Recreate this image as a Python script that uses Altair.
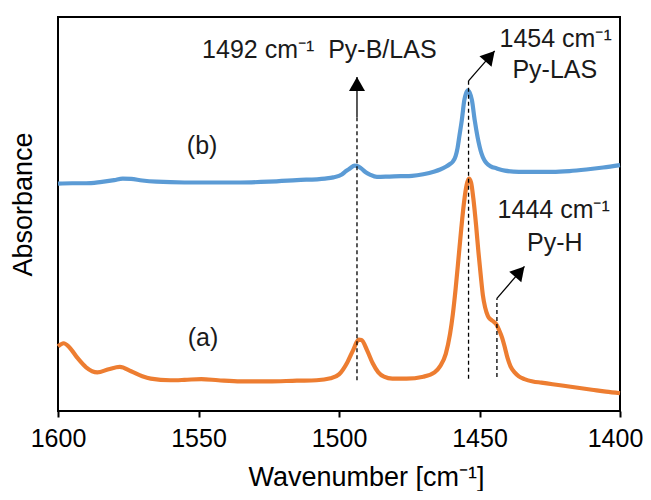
import altair as alt
import pandas as pd

FONT = "Liberation Sans"

# Spectrum (a) - orange
wn_a = [1600, 1598, 1596, 1593, 1590, 1586, 1582, 1578, 1574, 1570, 1567, 1560, 1555, 1549, 1543,
        1535, 1525, 1515, 1508, 1503, 1500, 1497, 1495, 1493, 1492, 1490, 1488, 1486, 1484, 1481,
        1476, 1470, 1466, 1464, 1462, 1460.5, 1459.5, 1458.5, 1457.5, 1456.5, 1455.5, 1454.5, 1453.8,
        1453, 1452.2, 1451.2, 1450.4, 1449.5, 1448.8, 1448, 1447, 1446, 1445, 1444, 1443, 1442, 1441,
        1440, 1439, 1437.5, 1436, 1434, 1431, 1428, 1424, 1420, 1415, 1410, 1405, 1400]
abs_a = [0.164, 0.172, 0.162, 0.134, 0.111, 0.098, 0.106, 0.112, 0.101, 0.088, 0.082, 0.078, 0.079,
         0.081, 0.078, 0.075, 0.075, 0.077, 0.078, 0.083, 0.093, 0.124, 0.154, 0.181, 0.180, 0.154,
         0.121, 0.098, 0.087, 0.082, 0.082, 0.087, 0.098, 0.114, 0.145, 0.195, 0.245, 0.310, 0.385,
         0.462, 0.530, 0.576, 0.590, 0.580, 0.540, 0.470, 0.405, 0.340, 0.294, 0.263, 0.241, 0.232,
         0.227, 0.220, 0.205, 0.187, 0.162, 0.134, 0.114, 0.098, 0.088, 0.081, 0.075, 0.072, 0.068,
         0.064, 0.059, 0.054, 0.049, 0.045]

# Spectrum (b) - blue
wn_b = [1600, 1595, 1590, 1585, 1580, 1577, 1574, 1570, 1565, 1555, 1545, 1535, 1525, 1515, 1505,
        1502, 1499, 1497.5, 1496, 1494.5, 1493.5, 1492, 1490.5, 1489, 1486.5, 1482, 1478, 1474, 1470,
        1466, 1464, 1462, 1460.5, 1459.5, 1458.5, 1457.8, 1457.2, 1456.3, 1455.4, 1454.8, 1454.2,
        1453.5, 1452.7, 1451.7, 1450.7, 1449.3, 1448.3, 1447.5, 1446, 1444, 1441, 1436, 1430, 1424,
        1418, 1412, 1406, 1400]
abs_b = [0.577, 0.578, 0.578, 0.581, 0.586, 0.590, 0.589, 0.585, 0.582, 0.580, 0.580, 0.580, 0.582,
         0.586, 0.590, 0.593, 0.600, 0.609, 0.616, 0.623, 0.622, 0.615, 0.606, 0.600, 0.594, 0.595,
         0.596, 0.597, 0.601, 0.608, 0.613, 0.620, 0.627, 0.633, 0.647, 0.668, 0.696, 0.738, 0.789,
         0.806, 0.814, 0.808, 0.789, 0.738, 0.696, 0.654, 0.637, 0.629, 0.621, 0.616, 0.610, 0.607,
         0.607, 0.607, 0.609, 0.613, 0.618, 0.624]

series_names = ["(a)", "(b)"]
series_colors = ["#ED7D31", "#5B9BD5"]

# Dashed marker lines at the band positions
dash_wn = [1493.6, 1453.9, 1443.8]
dash_lo = [0.078, 0.082, 0.086]
dash_hi = [0.746, 0.838, 0.286]

# Arrows (start -> tip)
arrow_wn = [1493.6, 1453.9, 1443.8]
arrow_lo = [0.746, 0.838, 0.286]
arrow_wn2 = [1493.6, 1444.6, 1434.0]
arrow_hi = [0.848, 0.914, 0.367]
arrow_angle = [0, 41, 41]

# Text labels
label_text = ["1492 cm⁻¹\u00a0 Py-B/LAS", "1454 cm⁻¹", "Py-LAS", "1444 cm⁻¹", "Py-H", "(b)", "(a)"]
label_wn = [1507.0, 1422.9, 1423.2, 1423.6, 1423.2, 1548.7, 1548.4]
label_abs = [0.916, 0.944, 0.865, 0.510, 0.426, 0.672, 0.185]

x_ticks = [1600, 1550, 1500, 1450, 1400]

spectra = pd.concat([
    pd.DataFrame({"wn": wn_a, "absorbance": abs_a, "sample": series_names[0]}),
    pd.DataFrame({"wn": wn_b, "absorbance": abs_b, "sample": series_names[1]}),
])
dash_df = pd.DataFrame({"wn": dash_wn, "lo": dash_lo, "hi": dash_hi})
arrow_df = pd.DataFrame({"wn": arrow_wn, "lo": arrow_lo, "wn2": arrow_wn2, "hi": arrow_hi,
                         "angle": arrow_angle})
label_df = pd.DataFrame({"wn": label_wn, "absorbance": label_abs, "label": label_text})

x_scale = alt.Scale(domain=[1400, 1600], reverse=True, nice=False, zero=False)
y_scale = alt.Scale(domain=[0, 1], nice=False, zero=False)

x_axis = alt.Axis(
    values=x_ticks, format="d", title="Wavenumber [cm⁻¹]",
    labelFont=FONT, labelFontSize=25, labelColor="#000", labelPadding=9,
    labelFlush=False, labelOverlap=False,
    labelOffset={"condition": {"test": "datum.value == 1400", "value": -5}, "value": 0},
    tickColor="#000", tickSize=6, tickWidth=2, domain=False, grid=False,
    titleFont=FONT, titleFontSize=27, titleFontWeight="normal", titleColor="#000",
    titleX=308, titleY=74, titleAlign="center", titleBaseline="alphabetic",
)
y_axis = alt.Axis(
    title="Absorbance", labels=False, ticks=False, domain=False, grid=False,
    titleFont=FONT, titleFontSize=27, titleFontWeight="normal", titleColor="#000",
    titleAngle=270, titleX=-35, titleY=187, titleAlign="center", titleBaseline="middle",
)

lines = alt.Chart(spectra).mark_line(strokeWidth=4.2, interpolate="monotone").encode(
    x=alt.X("wn:Q", scale=x_scale, axis=x_axis),
    y=alt.Y("absorbance:Q", scale=y_scale, axis=y_axis),
    color=alt.Color("sample:N", scale=alt.Scale(domain=series_names, range=series_colors),
                    legend=None),
)

dashes = alt.Chart(dash_df).mark_rule(color="#000", strokeWidth=1.3, strokeDash=[4, 3]).encode(
    x=alt.X("wn:Q"), y=alt.Y("lo:Q"), y2="hi:Q"
)

shafts = alt.Chart(arrow_df).mark_rule(color="#000", strokeWidth=1.3).encode(
    x=alt.X("wn:Q"), y=alt.Y("lo:Q"), x2="wn2:Q", y2="hi:Q"
)

heads = alt.Chart(arrow_df).mark_point(
    shape="M0,0L1,1.75L-1,1.75Z", filled=True, size=256, color="#000", opacity=1, strokeWidth=0
).encode(
    x=alt.X("wn2:Q"), y=alt.Y("hi:Q"), angle=alt.Angle("angle:Q", scale=None)
)

texts = alt.Chart(label_df).mark_text(
    font=FONT, fontSize=25, color="#1a1a1a", align="center", baseline="middle"
).encode(
    x=alt.X("wn:Q"), y=alt.Y("absorbance:Q"), text="label:N"
)

chart = alt.layer(lines, dashes, shafts, heads, texts).properties(
    width=562, height=394,
    autosize=alt.AutoSizeParams(type="none"),
    padding={"left": 50, "top": 9, "right": 23, "bottom": 80},
).configure_view(stroke="#000", strokeWidth=2)

chart.save("out.html", embed_options={"renderer": "svg", "actions": False})
